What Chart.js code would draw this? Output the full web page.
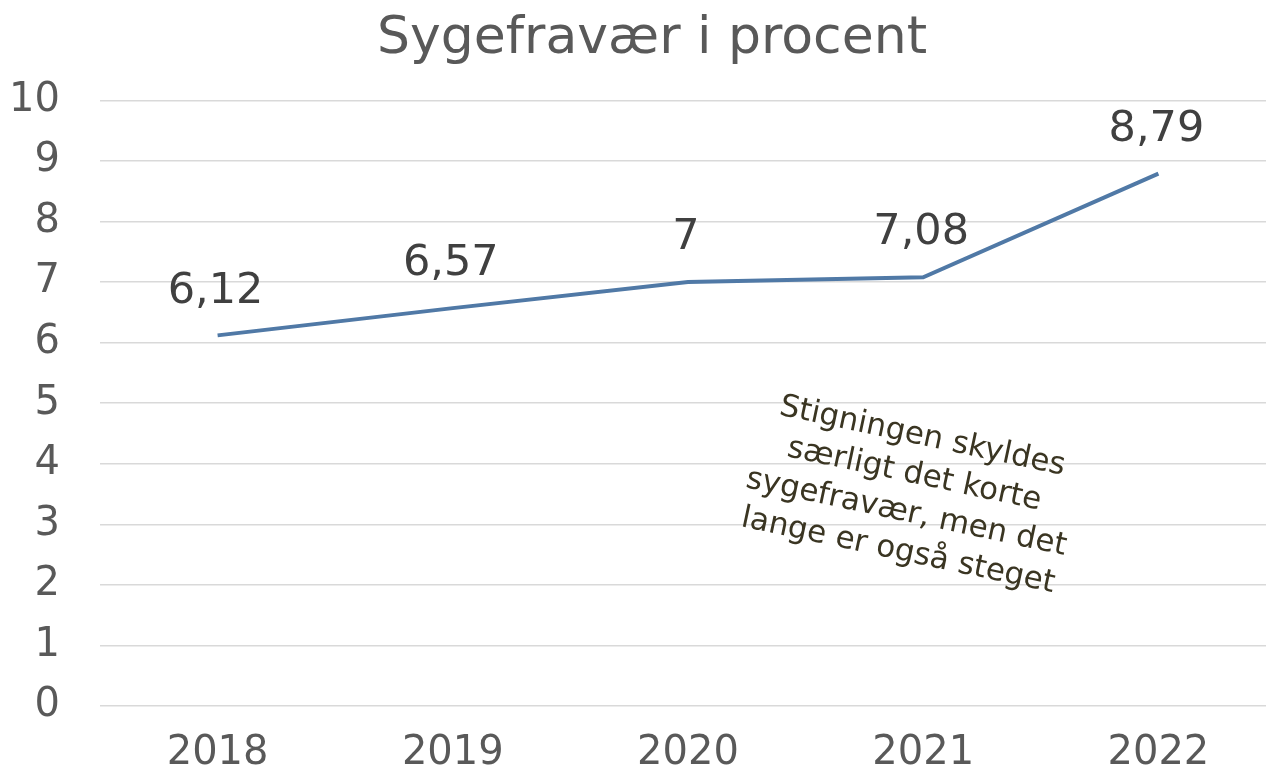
<!DOCTYPE html>
<html>
<head>
<meta charset="utf-8">
<script src="https://cdn.jsdelivr.net/npm/chart.js@4"></script>
<style>
  html, body { margin: 0; padding: 0; background: #fff; overflow: hidden; }
  #wrap { width: 1276px; height: 774px; }
</style>
</head>
<body>
<div id="wrap"><canvas id="chart"></canvas></div>
<script>
/* data */
const years = ["2018", "2019", "2020", "2021", "2022"];
const sygefravaer = [6.12, 6.57, 7, 7.08, 8.79];
const pointLabels = ["6,12", "6,57", "7", "7,08", "8,79"];
const noteLines = [
  "Stigningen skyldes",
  "særligt det korte",
  "sygefravær, men det",
  "lange er også steget"
];

const FONT = "'DejaVu Sans', Verdana, sans-serif";

// labels over each point
const valueLabels = {
  id: "valueLabels",
  afterDatasetsDraw(chart) {
    const ctx = chart.ctx;
    const meta = chart.getDatasetMeta(0);
    ctx.save();
    ctx.font = "43px " + FONT;
    ctx.fillStyle = "#404040";
    ctx.textAlign = "center";
    ctx.textBaseline = "middle";
    meta.data.forEach((pt, i) => {
      ctx.fillText(pointLabels[i], pt.x - 2, pt.y - 44);
    });
    ctx.restore();
  }
};

// rotated comment text
const noteText = {
  id: "noteText",
  afterDraw(chart) {
    const ctx = chart.ctx;
    const x = chart.scales.x;
    const y = chart.scales.y;
    const cx = x.getPixelForValue(3) - 13;
    const cy = y.getPixelForValue(3.5);
    ctx.save();
    ctx.translate(cx, cy);
    ctx.rotate(12 * Math.PI / 180);
    ctx.font = "31px " + FONT;
    ctx.fillStyle = "#3a3522";
    ctx.textAlign = "center";
    ctx.textBaseline = "middle";
    noteLines.forEach((t, i) => {
      ctx.fillText(t, 0, (i - 1.5) * 39);
    });
    ctx.restore();
  }
};

// title is centred a bit right of the canvas middle
const shiftTitle = {
  id: "shiftTitle",
  afterLayout(chart) {
    if (chart.titleBlock) chart.titleBlock.left += 28;
  }
};

new Chart(document.getElementById("chart"), {
  type: "line",
  data: {
    labels: years,
    datasets: [{
      data: sygefravaer,
      borderColor: "#5079a6",
      borderWidth: 4,
      pointRadius: 0,
      tension: 0,
      fill: false
    }]
  },
  options: {
    responsive: true,
    maintainAspectRatio: false,
    animation: false,
    layout: { padding: { left: 0, right: 0, top: 0, bottom: -28 } },
    plugins: {
      legend: { display: false },
      tooltip: { enabled: false },
      title: {
        display: true,
        text: "Sygefravær i procent",
        color: "#595959",
        font: { family: FONT, size: 52, weight: "normal" },
        padding: { top: 8, bottom: 30 }
      }
    },
    scales: {
      x: {
        offset: true,
        grid: { display: false, drawTicks: false },
        border: { display: false },
        ticks: {
          color: "#595959",
          font: { family: FONT, size: 40 },
          padding: 24
        }
      },
      y: {
        min: 0,
        max: 10,
        afterFit(scale) { scale.width = 100; },
        ticks: {
          stepSize: 1,
          color: "#595959",
          font: { family: FONT, size: 40 },
          padding: 40
        },
        grid: { color: "#d9d9d9", lineWidth: 1.5, drawTicks: false },
        border: { display: false }
      }
    }
  },
  plugins: [valueLabels, noteText, shiftTitle]
});
</script>
</body>
</html>
